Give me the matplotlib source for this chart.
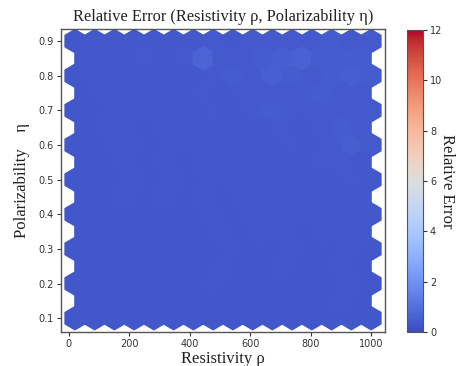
import numpy as np
import matplotlib.pyplot as plt

# sample positions: resistivity at half-hex steps, polarizability rows
resistivity = [20, 52.7, 85.3, 118, 150.7, 183.3, 216, 248.7, 281.3, 314,
               346.7, 379.3, 412, 444.7, 477.3, 510, 542.7, 575.3, 608, 640.7,
               673.3, 706, 738.7, 771.3, 804, 836.7, 869.3, 902, 934.7, 967.3, 1000]
polarizability = [0.10, 0.15, 0.20, 0.25, 0.30, 0.35, 0.40, 0.45, 0.50,
                  0.55, 0.60, 0.65, 0.70, 0.75, 0.80, 0.85, 0.90]

# relative error per row; even rows use resistivity[0::2], odd rows resistivity[1::2]
rel_error = [
    [0.30, 0.29, 0.31, 0.30, 0.29, 0.30, 0.31, 0.30, 0.31, 0.32, 0.31, 0.30, 0.31, 0.32, 0.31, 0.30],
    [0.29, 0.30, 0.31, 0.30, 0.31, 0.32, 0.31, 0.30, 0.31, 0.32, 0.31, 0.31, 0.32, 0.33, 0.32],
    [0.29, 0.30, 0.30, 0.31, 0.30, 0.31, 0.32, 0.33, 0.31, 0.30, 0.32, 0.31, 0.31, 0.32, 0.33, 0.31],
    [0.30, 0.31, 0.29, 0.31, 0.32, 0.30, 0.31, 0.33, 0.31, 0.32, 0.33, 0.31, 0.32, 0.33, 0.32],
    [0.29, 0.30, 0.31, 0.30, 0.31, 0.31, 0.32, 0.31, 0.33, 0.31, 0.32, 0.33, 0.32, 0.32, 0.34, 0.32],
    [0.30, 0.30, 0.31, 0.31, 0.32, 0.31, 0.32, 0.33, 0.31, 0.33, 0.34, 0.32, 0.33, 0.34, 0.33],
    [0.30, 0.31, 0.30, 0.32, 0.31, 0.32, 0.31, 0.33, 0.32, 0.34, 0.33, 0.34, 0.33, 0.35, 0.36, 0.34],
    [0.31, 0.32, 0.33, 0.31, 0.33, 0.32, 0.34, 0.32, 0.34, 0.33, 0.35, 0.34, 0.36, 0.37, 0.35],
    [0.30, 0.31, 0.32, 0.33, 0.31, 0.33, 0.32, 0.34, 0.33, 0.35, 0.34, 0.36, 0.34, 0.37, 0.38, 0.36],
    [0.31, 0.32, 0.33, 0.31, 0.34, 0.32, 0.35, 0.33, 0.35, 0.34, 0.37, 0.35, 0.38, 0.39, 0.37],
    [0.31, 0.32, 0.33, 0.34, 0.32, 0.35, 0.33, 0.36, 0.34, 0.37, 0.35, 0.38, 0.36, 0.39, 0.48, 0.38],
    [0.32, 0.33, 0.34, 0.32, 0.35, 0.33, 0.37, 0.34, 0.37, 0.36, 0.39, 0.37, 0.41, 0.44, 0.39],
    [0.31, 0.32, 0.33, 0.35, 0.33, 0.36, 0.34, 0.38, 0.35, 0.39, 0.43, 0.40, 0.38, 0.42, 0.40, 0.40],
    [0.32, 0.33, 0.35, 0.33, 0.37, 0.34, 0.38, 0.36, 0.40, 0.38, 0.42, 0.39, 0.43, 0.41, 0.42],
    [0.32, 0.33, 0.34, 0.35, 0.33, 0.37, 0.35, 0.39, 0.44, 0.40, 0.52, 0.43, 0.42, 0.45, 0.50, 0.43],
    [0.33, 0.34, 0.35, 0.40, 0.36, 0.38, 0.70, 0.39, 0.41, 0.46, 0.48, 0.58, 0.44, 0.46, 0.45],
    [0.32, 0.33, 0.34, 0.35, 0.33, 0.37, 0.35, 0.39, 0.37, 0.40, 0.38, 0.42, 0.40, 0.43, 0.41, 0.42],
]

x, y, c = [], [], []
for j, eta in enumerate(polarizability):
    rhos = resistivity[j % 2::2]
    for rho, err in zip(rhos, rel_error[j]):
        x.append(rho)
        y.append(eta)
        c.append(err)

serif = 'Liberation Serif'
edge = '#555555'

fig = plt.figure(figsize=(4.64, 3.66), dpi=100)
ax = fig.add_axes([0.1315, 0.0937, 0.6982, 0.8271])
cax = fig.add_axes([0.877, 0.093, 0.0345, 0.825])

hb = ax.hexbin(x, y, C=c, gridsize=(15, 8), cmap='coolwarm', vmin=0, vmax=12)
ax.set_xlim(-26, 1046)
ax.set_ylim(0.061, 0.935)
ax.set_xticks([0, 200, 400, 600, 800, 1000])
ax.set_yticks([0.1, 0.2, 0.3, 0.4, 0.5, 0.6, 0.7, 0.8, 0.9])

ax.set_title('Relative Error (Resistivity ρ, Polarizability η)', fontsize=11.8,
             family=serif, color='#222222', pad=6)
ax.set_xlabel('Resistivity ρ', fontsize=12, family=serif, color='#222222', labelpad=2)
ax.set_ylabel('Polarizability    η', fontsize=12, family=serif, color='#222222', labelpad=6)

for sp in ax.spines.values():
    sp.set_color(edge)
    sp.set_linewidth(1.0)
ax.tick_params(labelsize=7, colors='#333333', length=3, width=0.8, pad=2)

cb = fig.colorbar(hb, cax=cax)
cb.set_ticks([0, 2, 4, 6, 8, 10, 12])
cb.outline.set_edgecolor(edge)
cb.ax.tick_params(labelsize=7, colors='#333333', length=3, width=0.8, pad=2)
cb.set_label('Relative Error', rotation=270, fontsize=12, family=serif,
             color='#222222', labelpad=9)

fig.savefig('out.png', dpi=100)
